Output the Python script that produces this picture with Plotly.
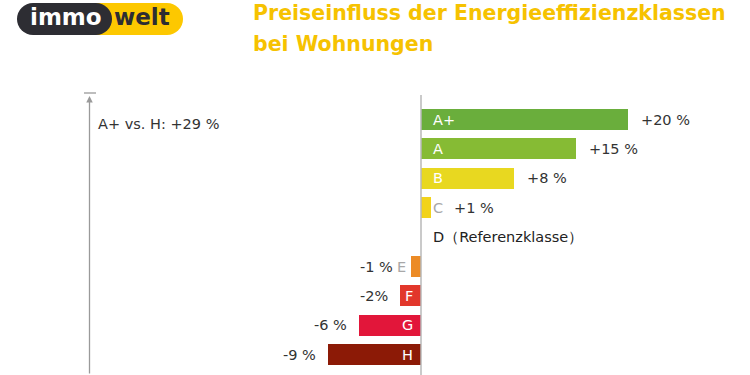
import plotly.graph_objects as go

# ---- data ----
classes = ["A+", "A", "B", "C", "D", "E", "F", "G", "H"]
bar_values = [20, 15, 9, 1, 0, -1, -2, -6, -9]
value_labels = ["+20 %", "+15 %", "+8 %", "+1 %", "", "-1 %", "-2%", "-6 %", "-9 %"]
class_labels = ["A+", "A", "B", "C", "D（Referenzklasse）", "E", "F", "G", "H"]
bar_colors = ["#6aae3c", "#86bb34", "#e8d820", "#f2d31b", "#ffffff",
              "#ec8b26", "#e2372b", "#e2163a", "#8c1a06"]
letter_colors = ["#ffffff", "#ffffff", "#ffffff", "#a8a8a8", "#222222",
                 "#a8a8a8", "#ffffff", "#ffffff", "#ffffff"]
title_lines = ["Preiseinfluss der Energieeffizienzklassen", "bei Wohnungen"]
spread_label = "A+ vs. H: +29 %"

W, H = 750, 375
FONT = "DejaVu Sans"
TXT = "#333333"
LS = 14.5

idx = list(range(len(classes)))


def px(sx):
    return sx / W


def py(sy):
    return 1 - sy / H


fig = go.Figure()
fig.add_trace(go.Bar(
    y=idx, x=bar_values, orientation="h",
    marker=dict(color=bar_colors, line=dict(width=0)),
    width=0.71, hoverinfo="skip", showlegend=False,
))

annotations = []
for i, (v, lab, cl, lc) in enumerate(zip(bar_values, value_labels, class_labels, letter_colors)):
    if v >= 0:
        annotations.append(dict(x=0, y=i, xref="x", yref="y", text=cl, showarrow=False,
                                xanchor="left", yanchor="middle", xshift=10,
                                font=dict(family=FONT, size=LS, color=lc)))
    else:
        shift = -13 if abs(v) < 1.5 else -6
        annotations.append(dict(x=0, y=i, xref="x", yref="y", text=cl, showarrow=False,
                                xanchor="right", yanchor="middle", xshift=shift,
                                font=dict(family=FONT, size=LS, color=lc)))
    if lab:
        if abs(v) < 1.5:
            ax, sh = 0, (31 if v > 0 else -26)
        else:
            ax, sh = v, (11 if v > 0 else -10)
        annotations.append(dict(x=ax, y=i, xref="x", yref="y", text=lab, showarrow=False,
                                xanchor="left" if v > 0 else "right", yanchor="middle",
                                xshift=sh, font=dict(family=FONT, size=LS, color=TXT)))

annotations.append(dict(x=px(96), y=py(124), xref="paper", yref="paper", text=spread_label,
                        showarrow=False, xanchor="left", yanchor="middle",
                        font=dict(family=FONT, size=LS, color=TXT)))
annotations.append(dict(x=px(89.5), y=py(96), xref="paper", yref="paper", text="",
                        showarrow=True, ax=0, ay=285, axref="pixel", ayref="pixel",
                        arrowhead=2, arrowsize=1, arrowwidth=1.3, arrowcolor="#9a9a9a"))
for k, t in enumerate(title_lines):
    annotations.append(dict(x=px(251), y=py(13 + 31 * k), xref="paper", yref="paper",
                            text="<b>" + t + "</b>", showarrow=False, xanchor="left",
                            yanchor="middle",
                            font=dict(family=FONT, size=20.5, color="#f6c200")))
annotations.append(dict(x=px(66), y=py(17), xref="paper", yref="paper", text="<b>immo</b>",
                        showarrow=False, xanchor="center", yanchor="middle",
                        font=dict(family=FONT, size=23, color="#ffffff")))
annotations.append(dict(x=px(142), y=py(17), xref="paper", yref="paper", text="<b>welt</b>",
                        showarrow=False, xanchor="center", yanchor="middle",
                        font=dict(family=FONT, size=23, color="#2d2d33")))

shapes = []
R = 16
cy = 19
YEL = "#fdc800"
DARK = "#2d2d33"
shapes.append(dict(type="rect", xref="paper", yref="paper", x0=px(94), x1=px(167),
                   y0=py(cy + R), y1=py(cy - R), fillcolor=YEL, line=dict(width=0), layer="below"))
shapes.append(dict(type="circle", xref="paper", yref="paper", x0=px(167 - R), x1=px(167 + R),
                   y0=py(cy + R), y1=py(cy - R), fillcolor=YEL, line=dict(width=0), layer="below"))
shapes.append(dict(type="rect", xref="paper", yref="paper", x0=px(33), x1=px(96),
                   y0=py(cy + R), y1=py(cy - R), fillcolor=DARK, line=dict(width=0), layer="below"))
for cx in (33, 96):
    shapes.append(dict(type="circle", xref="paper", yref="paper", x0=px(cx - R), x1=px(cx + R),
                       y0=py(cy + R), y1=py(cy - R), fillcolor=DARK, line=dict(width=0),
                       layer="below"))
shapes.append(dict(type="line", xref="x", yref="paper", x0=0, x1=0, y0=0, y1=py(95),
                   line=dict(color="#b8b8b8", width=1.5)))
shapes.append(dict(type="line", xref="paper", yref="paper", x0=px(84), x1=px(96),
                   y0=py(93), y1=py(93), line=dict(color="#9a9a9a", width=1.3)))

PXU = 10.35
ZERO = 421
ROW0 = 119.5
ROWH = 29.4
fig.update_layout(
    width=W, height=H,
    margin=dict(l=0, r=0, t=0, b=0),
    paper_bgcolor="white", plot_bgcolor="white",
    xaxis=dict(range=[-ZERO / PXU, (W - ZERO) / PXU], visible=False, fixedrange=True),
    yaxis=dict(range=[(H - ROW0) / ROWH, -ROW0 / ROWH], visible=False, fixedrange=True),
    annotations=annotations, shapes=shapes, bargap=0,
)

fig.write_html("out.html", config={"displayModeBar": False},
               post_script="document.body.style.margin='0';document.body.style.overflow='hidden';")
